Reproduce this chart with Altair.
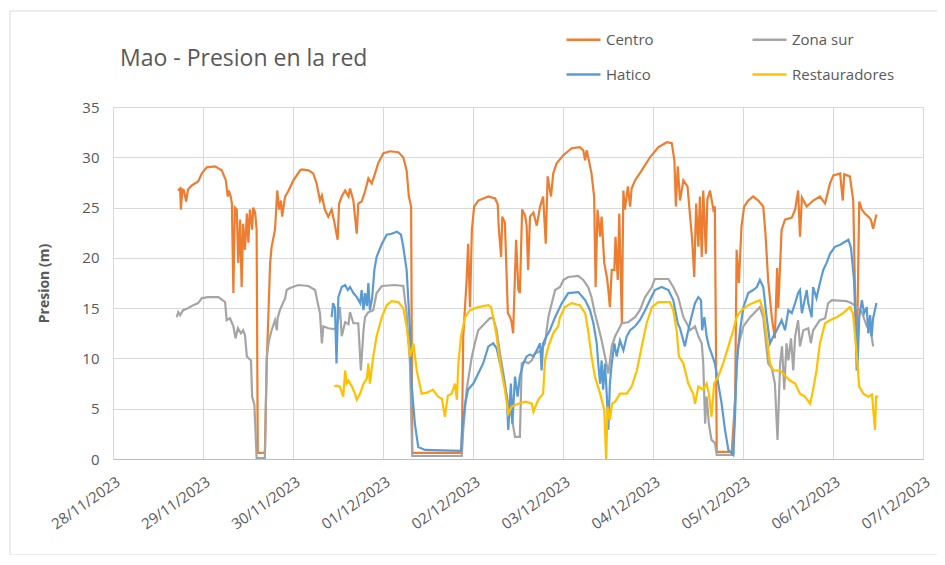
import altair as alt
import pandas as pd

# ---- data (hours since 28/11/2023 00:00, pressure in m) ----
centro_h = [17.3, 17.9, 18.1, 18.5, 18.9, 19.5, 20.0, 21.0, 22.7, 23.7, 25.0, 27.2, 29.0, 30.1, 30.6, 30.9, 31.4, 31.7,
            32.1, 32.5, 33.0, 33.4, 33.9, 34.3, 34.7, 35.2, 35.7, 36.1, 36.5, 37.1, 37.4, 37.9, 38.3, 38.6, 40.5, 41.0,
            41.9, 42.3, 43.2, 43.8, 44.3, 44.8, 45.1, 45.9, 46.7, 48.1, 49.9, 50.3, 52.1, 53.4, 54.3, 55.2, 55.7, 56.5,
            57.4, 58.3, 59.0, 59.9, 60.3, 61.0, 61.9, 62.8, 63.2, 64.1, 65.0, 65.4, 66.3, 67.2, 68.1, 69.0, 69.9, 70.7,
            72.1, 73.9, 76.1, 77.4, 78.3, 78.9, 79.5, 79.8, 93.0, 93.4, 94.3, 94.7, 95.2, 95.7, 96.3, 97.4, 100.1, 101.9,
            102.6, 102.9, 103.5, 103.8, 104.5, 105.3, 105.9, 106.3, 106.7, 107.0, 107.5, 108.1, 108.5, 109.1, 109.9,
            110.3, 110.7, 111.2, 112.1, 113.0, 113.9, 114.7, 115.4, 115.9, 116.8, 117.4, 118.3, 120.1, 122.3, 124.5,
            125.4, 125.9, 126.3, 126.9, 127.6, 128.3, 128.7, 129.2, 129.9, 130.3, 131.0, 131.7, 132.1, 132.5, 133.0,
            133.7, 134.0, 134.6, 135.0, 135.7, 136.1, 136.5, 137.3, 137.9, 138.3, 139.2, 141.0, 143.2, 145.4, 147.7,
            149.0, 149.7, 150.1, 150.6, 151.2, 152.1, 153.2, 153.9, 154.4, 155.0, 155.5, 156.1, 156.5, 157.0, 157.4,
            158.1, 158.5, 159.2, 160.1, 160.5, 161.0, 165.0, 165.9, 166.3, 166.9, 167.6, 168.3, 169.4, 170.7, 172.1,
            173.4, 174.0, 174.7, 175.7, 176.5, 177.1, 177.4, 178.3, 179.2, 181.0, 181.9, 182.7, 183.2, 183.7, 185.0,
            186.7, 188.5, 189.9, 191.2, 192.1, 193.9, 194.6, 195.0, 196.5, 197.4, 197.9, 198.3, 199.0, 199.7, 200.5,
            201.4, 202.1, 202.7, 203.5, 203.7]
centro_v = [26.7, 26.9, 24.8, 26.8, 26.7, 25.6, 26.8, 27.2, 27.6, 28.4, 29.0, 29.1, 28.7, 27.7, 26.1, 26.7, 26.1, 25.4,
            16.5, 25.0, 24.8, 19.5, 23.8, 17.1, 23.4, 20.8, 24.4, 21.5, 24.8, 22.8, 25.0, 24.5, 22.8, 0.6, 0.6, 9.5,
            19.5, 21.1, 22.8, 26.7, 24.8, 25.7, 24.1, 26.1, 26.6, 27.7, 28.7, 28.8, 28.7, 28.4, 27.4, 25.7, 26.2, 24.8,
            24.1, 24.8, 23.6, 21.8, 25.4, 26.1, 26.7, 26.1, 26.9, 25.7, 22.4, 25.4, 25.6, 26.6, 27.9, 27.4, 28.4, 29.4,
            30.4, 30.6, 30.5, 30.0, 28.7, 26.1, 25.1, 0.6, 0.6, 12.2, 17.8, 21.4, 15.1, 22.8, 25.1, 25.7, 26.1, 25.9,
            25.3, 22.8, 20.1, 24.1, 23.5, 14.5, 14.1, 13.6, 12.5, 16.0, 21.8, 16.8, 16.5, 24.8, 24.2,
            23.2, 18.8, 24.1, 24.5, 23.2, 25.1, 26.1, 21.4, 28.1, 26.1, 28.4, 29.4, 30.2, 30.9, 31.0,
            30.7, 29.7, 30.7, 29.7, 28.4, 26.1, 17.1, 24.8, 22.1, 24.1, 19.5, 18.1, 16.8, 15.1, 18.8,
            18.8, 22.1, 17.8, 24.4, 13.5, 26.7, 24.8, 27.1, 25.1, 26.9, 27.7, 28.7, 30.0, 31.0, 31.5,
            31.4, 29.7, 25.1, 29.1, 25.7, 27.7, 27.1, 24.1, 22.0, 18.1, 25.4, 21.1, 26.1, 20.1, 26.7,
            20.4, 25.8, 26.7, 24.8, 25.1, 0.7, 0.7, 5.9, 20.8, 17.5, 23.1, 25.1, 25.7, 26.1, 25.7,
            25.1, 22.4, 17.8, 14.0, 12.0, 19.0, 15.0, 22.8, 23.8, 24.0, 24.8, 26.7, 22.1, 26.0, 25.1,
            25.7, 26.1, 25.4, 27.4, 28.2, 28.4, 25.7, 28.3, 28.1, 25.7, 16.0, 8.8, 25.6, 24.8, 24.4,
            24.1, 23.8, 22.9, 24.2, 24.3]

zona_h = [17.0, 17.4, 17.9, 18.7, 20.0, 21.4, 22.7, 23.7, 25.4, 28.1, 29.9, 30.3, 31.2, 32.1, 32.7, 33.3, 34.1, 34.7,
          35.2, 35.7, 36.8, 37.1, 37.7, 38.3, 40.5, 41.0, 41.6, 42.3, 43.2, 43.7, 43.9, 44.5, 45.9, 46.3, 47.2, 49.4,
          52.1, 53.9, 54.6, 55.2, 55.7, 56.1, 57.4, 59.2, 59.9, 60.5, 61.0, 61.9, 62.8, 63.2, 64.1, 65.4, 66.1, 66.8,
          67.2, 68.1, 69.4, 70.3, 71.7, 75.2, 77.4, 78.3, 79.2, 79.8, 93.0, 93.4, 94.3, 95.7, 96.5, 97.4, 99.2, 100.5,
          101.4, 102.3, 103.2, 104.1, 105.0, 106.3, 107.2, 108.5, 109.0, 109.9, 110.7, 111.7, 112.5, 113.9, 115.2,
          116.1, 116.8, 117.9, 119.2, 120.1, 121.4, 124.1, 125.4, 126.7, 127.6, 128.5, 129.4, 130.3, 131.2, 132.1,
          133.0, 133.9, 135.7, 137.4, 139.2, 140.5, 141.9, 143.7, 144.5, 148.1, 149.4, 150.7, 152.1, 153.4, 153.9,
          155.2, 156.1, 157.0, 157.4, 157.9, 158.3, 158.9, 159.6, 160.5, 161.0, 165.4, 165.9, 166.7, 168.1, 169.9,
          171.7, 172.5, 173.4, 174.7, 175.7, 176.5, 177.2, 177.9, 178.4, 179.0, 179.6, 180.1, 180.8, 181.4, 181.9,
          182.7, 183.2, 184.1, 185.4, 186.1, 186.7, 188.5, 189.9, 190.7, 191.7, 195.6, 197.0, 198.3, 199.7, 201.0,
          201.9, 202.3, 202.7]
zona_v = [14.1, 14.6, 14.3, 14.8, 15.0, 15.3, 15.5, 16.0, 16.1, 16.1, 15.6, 13.8, 14.0, 13.2, 12.0, 13.0, 12.5, 12.8,
          12.3, 10.2, 9.8, 6.2, 5.4, 0.1, 0.1, 10.2, 11.8, 12.8, 13.8, 12.8, 14.0, 14.8, 16.0, 16.8, 17.0, 17.3,
          17.2, 16.8, 15.5, 14.5, 11.5, 13.2, 13.0, 12.9, 13.6, 15.1, 12.2, 13.6, 13.4, 14.6, 13.5, 13.5, 8.8, 12.8,
          14.1, 14.6, 14.8, 16.5, 17.2, 17.3, 17.2, 14.5, 9.5, 0.3, 0.3, 2.9, 6.9, 10.2, 11.5, 12.8, 13.5, 14.0,
          14.0, 12.8, 10.5, 8.5, 6.2, 4.2, 2.2, 2.2, 9.5, 9.7, 9.5, 9.8, 10.5, 10.7, 11.5,
          14.1, 15.2, 16.8, 17.1, 17.8, 18.1, 18.2, 17.8, 17.1, 16.1, 14.5, 13.2, 11.8, 10.2, 8.5,
          11.2, 12.2, 13.5, 13.6, 14.1, 14.8, 16.1, 17.1, 17.9, 17.9, 17.1, 16.1, 14.1, 13.2, 12.8,
          13.2, 12.2, 11.5, 9.5, 3.5, 6.2, 3.5, 1.9, 1.6, 0.4, 0.4, 6.2, 11.2, 13.2, 14.1,
          14.8, 15.1, 14.1, 9.5, 9.0, 7.5, 1.9, 9.5, 11.2, 6.9, 11.5, 9.8, 12.0, 8.8, 12.2,
          13.8, 11.2, 12.8, 13.0, 11.5, 12.8, 13.8, 14.0, 15.5, 15.8, 15.7, 15.5, 15.1, 14.6, 13.2,
          12.8, 12.2, 11.2]

hatico_h = [58.3, 58.7, 59.2, 59.6, 60.1, 61.0, 61.9, 62.6, 63.2, 64.1, 65.0, 65.9, 66.3, 66.8, 67.2, 67.7, 68.1, 68.5,
            69.1, 69.7, 70.3, 71.7, 73.0, 74.3, 75.7, 76.8, 77.4, 78.3, 79.2, 79.6, 80.5, 81.4, 83.2, 92.8, 93.1, 93.9,
            94.7, 96.1, 97.4, 98.7, 100.1, 101.4, 102.3, 103.2, 104.1, 105.0, 105.4, 106.1, 106.5, 107.2, 107.9, 108.5,
            109.4, 110.3, 111.2, 112.1, 113.0, 113.9, 114.3, 114.7, 115.6, 116.5, 117.9, 119.7, 121.4, 124.1, 125.9,
            127.2, 128.1, 129.0, 129.4, 129.9, 130.3, 130.7, 131.2, 131.7, 132.1, 132.5, 133.0, 133.7, 134.3, 135.2,
            136.1, 137.0, 137.9, 139.2, 140.5, 141.9, 143.2, 144.5, 146.3, 148.1, 149.4, 150.6, 151.2, 152.5, 153.4,
            154.3, 155.2, 156.1, 156.8, 157.1, 157.7, 158.3, 158.9, 159.6, 160.5, 161.4, 162.3, 163.2, 164.1, 165.4,
            165.9, 166.3, 167.2, 168.1, 169.4, 170.7, 171.7, 172.5, 173.4, 174.3, 175.2, 176.1, 177.0, 178.3, 179.2,
            180.1, 181.0, 181.9, 182.7, 183.2, 183.7, 185.0, 185.4, 186.3, 186.7, 187.6, 188.5, 189.4, 190.3, 191.2,
            192.5, 193.9, 195.2, 196.1, 196.8, 197.6, 198.1, 198.5, 199.0, 199.7, 200.3, 201.0, 201.4, 201.9, 202.3,
            202.7, 203.6]
hatico_v = [14.1, 15.5, 15.0, 9.5, 16.1, 17.1, 17.3, 16.8, 17.1, 16.5, 16.1, 15.5, 16.8, 14.8, 16.5, 15.2, 17.5, 14.8,
            16.0, 18.8, 20.1, 21.4, 22.3, 22.4, 22.6, 22.3, 21.1, 18.8, 12.8, 7.5, 3.5, 1.2, 0.9, 0.8, 2.9, 5.5,
            6.9, 7.5, 8.5, 9.5, 11.2, 11.5, 11.0, 9.5, 8.2, 6.2, 2.9, 7.5, 3.5, 8.2, 6.2, 8.2,
            9.5, 10.2, 10.4, 10.2, 10.8, 11.5, 8.8, 11.5, 12.2, 12.8, 14.1, 15.5, 16.5, 16.6, 15.8,
            14.8, 13.5, 11.5, 9.5, 7.5, 9.8, 6.9, 9.5, 6.2, 2.9, 7.5, 9.5, 11.5, 10.2, 11.8,
            10.8, 12.2, 12.8, 13.2, 13.8, 14.8, 15.8, 16.8, 17.1, 16.8, 15.8, 13.5, 13.0, 11.2, 12.8,
            14.2, 15.5, 16.1, 15.8, 12.8, 14.1, 12.2, 11.2, 10.5, 9.5, 7.5, 5.5, 2.9, 0.9, 0.4,
            4.5, 9.5, 12.8, 15.1, 16.5, 16.8, 17.1, 17.8, 17.1, 14.1, 11.5, 12.2, 12.8, 13.8, 12.8,
            14.8, 14.5, 15.5, 16.5, 16.8, 14.5, 16.8, 15.5, 14.1, 17.1, 16.0, 17.5, 18.8, 19.5, 20.4,
            21.1, 21.3, 21.6, 21.8, 21.0, 17.8, 12.8, 8.8, 14.1, 15.8, 14.5, 15.1, 12.5, 14.3, 12.2,
            14.0, 15.5]

rest_h = [59.0, 59.6, 60.5, 61.4, 61.9, 62.3, 62.8, 63.7, 64.5, 65.0, 65.9, 66.8, 67.7, 68.1, 68.5, 69.4, 70.3, 71.7,
          73.0, 74.3, 76.1, 77.4, 78.3, 79.2, 80.1, 81.0, 82.3, 83.7, 85.3, 86.7, 87.7, 88.5, 89.3, 90.3, 91.2, 91.7,
          92.1, 92.8, 93.9, 95.2, 97.4, 100.1, 100.8, 101.4, 102.3, 103.2, 104.5, 105.4, 106.3, 108.1, 109.9, 111.7,
          112.1, 113.4, 114.7, 115.2, 116.1, 117.4, 118.7, 119.2, 120.5, 122.3, 124.5, 125.9, 126.7, 127.6, 128.5,
          129.9, 131.0, 131.5, 131.9, 132.5, 133.1, 133.9, 135.2, 137.0, 138.3, 139.7, 141.0, 142.3, 143.7, 145.4,
          148.5, 149.4, 150.3, 150.9, 152.1, 153.4, 154.7, 155.2, 156.1, 157.4, 158.3, 158.9, 159.6, 160.3, 161.4,
          162.7, 164.1, 165.4, 166.3, 167.6, 169.4, 171.2, 172.5, 173.4, 174.3, 175.2, 176.1, 177.9, 179.2, 180.5,
          181.9, 183.2, 184.5, 185.9, 186.7, 187.6, 188.5, 189.9, 191.2, 193.0, 194.7, 196.5, 197.3, 197.9, 198.5,
          199.0, 200.1, 201.4, 202.4, 203.2, 203.5, 204.1]
rest_v = [7.2, 7.3, 7.2, 6.2, 8.8, 7.5, 7.8, 7.2, 6.5, 5.9, 6.5, 7.5, 8.0, 9.5, 7.5, 10.2, 12.2, 14.1,
          15.3, 15.7, 15.6, 15.0, 13.2, 10.2, 11.5, 8.8, 6.5, 6.6, 6.9, 6.2, 6.0, 4.2, 6.3, 6.5, 7.5, 5.9,
          9.5, 12.2, 14.1, 14.8, 15.1, 15.3, 15.1, 14.1, 12.2, 9.5, 6.9, 4.5, 5.2, 5.5, 5.7, 5.5,
          4.7, 5.9, 6.5, 9.8, 11.2, 12.5, 13.2, 14.1, 15.1, 15.5, 15.3, 14.5, 12.8, 10.2, 8.2,
          6.5, 4.9, 0.0, 5.2, 3.9, 5.5, 5.7, 6.5, 6.5, 7.2, 8.8, 11.2, 13.5, 15.1, 15.6,
          15.6, 14.8, 12.8, 10.2, 9.5, 7.5, 6.5, 5.5, 7.2, 6.9, 7.5, 6.5, 4.2, 7.5, 8.2,
          9.5, 11.2, 12.8, 14.1, 14.8, 15.3, 15.6, 15.8, 14.8, 12.2, 9.5, 8.8, 8.8, 8.3, 7.8,
          7.5, 6.5, 6.2, 5.5, 6.9, 8.8, 11.5, 13.5, 13.8, 14.1, 14.5, 15.1, 14.5, 12.2, 9.5,
          7.2, 6.5, 6.2, 6.4, 2.9, 6.2, 6.2]

series_names = ["Centro", "Zona sur", "Hatico", "Restauradores"]
series_colors = ["#ED7D31", "#A5A5A5", "#5B9BD5", "#FFC000"]
day_labels = ["2023-11-28", "2023-11-29", "2023-11-30", "2023-12-01", "2023-12-02",
              "2023-12-03", "2023-12-04", "2023-12-05", "2023-12-06", "2023-12-07"]

start = pd.Timestamp("2023-11-28 00:00")
frames = []
for name, hs, vs in [("Centro", centro_h, centro_v), ("Zona sur", zona_h, zona_v),
                     ("Hatico", hatico_h, hatico_v), ("Restauradores", rest_h, rest_v)]:
    frames.append(pd.DataFrame({
        "serie": name,
        "fecha": [(start + pd.Timedelta(hours=h)).strftime("%Y-%m-%dT%H:%M:%S") for h in hs],
        "presion": vs,
    }))
df = pd.concat(frames, ignore_index=True)
df["orden"] = df["serie"].map({n: i for i, n in enumerate(series_names)})

FONT = "Open Sans"
TXT = "#595959"
GRID = "#D9D9D9"

tick_values = [alt.DateTime(year=int(d[:4]), month=int(d[5:7]), date=int(d[8:10])) for d in day_labels]

lines = alt.Chart(df).mark_line(strokeWidth=2.2, clip=True).encode(
    x=alt.X("fecha:T",
            scale=alt.Scale(domain=[tick_values[0], tick_values[-1]]),
            axis=alt.Axis(values=tick_values, format="%d/%m/%Y", labelAngle=-35, title=None,
                          grid=True, gridColor=GRID, ticks=False, domainColor="#BFBFBF",
                          labelColor=TXT, labelFont=FONT, labelFontSize=15, labelPadding=15,
                          labelOffset=1, labelAlign="right", labelBaseline="top")),
    y=alt.Y("presion:Q",
            scale=alt.Scale(domain=[0, 35]),
            axis=alt.Axis(values=[0, 5, 10, 15, 20, 25, 30, 35], title="Presion (m)",
                          grid=True, gridColor=GRID, ticks=False, domain=False,
                          labelColor=TXT, labelFont=FONT, labelFontSize=15, labelPadding=14,
                          titleColor=TXT, titleFont=FONT, titleFontSize=14, titleFontWeight="bold",
                          titlePadding=30)),
    color=alt.Color("serie:N",
                    scale=alt.Scale(domain=series_names, range=series_colors),
                    legend=alt.Legend(title=None, orient="none", legendX=452, legendY=-86,
                                      columns=2, columnPadding=93, rowPadding=8,
                                      symbolType="stroke", symbolSize=1156, symbolStrokeWidth=2.5,
                                      labelFont=FONT, labelFontSize=15, labelColor=TXT,
                                      labelOffset=4, direction="horizontal")),
    order=alt.Order("orden:Q"),
    detail="serie:N",
)

title_txt = alt.Chart(pd.DataFrame({"t": ["Mao - Presion en la red"]})).mark_text(
    align="left", baseline="alphabetic", font=FONT, fontSize=23, color=TXT
).encode(text="t:N", x=alt.value(7), y=alt.value(-41))

frame = alt.Chart(pd.DataFrame({"a": [0]})).mark_rect(
    fill=None, stroke=GRID, strokeWidth=1
).encode(x=alt.value(-103), x2=alt.value(826), y=alt.value(-96), y2=alt.value(448))

chart = alt.layer(frame, lines, title_txt).properties(
    width=810, height=352,
    padding={"left": 105, "top": 99, "right": 14, "bottom": 96},
    autosize=alt.AutoSizeParams(type="none"),
).configure_view(stroke=None).configure(background="white")

chart.save("out.html", embed_options={"renderer": "svg", "actions": False})
